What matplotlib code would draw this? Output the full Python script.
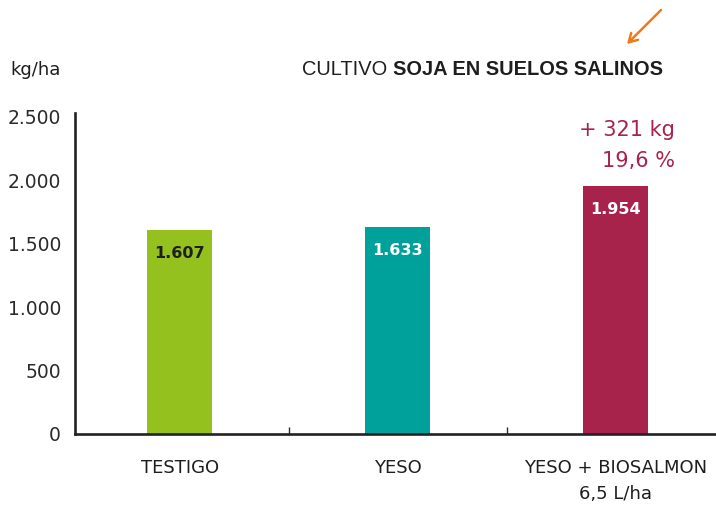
import matplotlib
matplotlib.use("Agg")
import matplotlib.pyplot as plt

# Soja en suelos salinos: rendimiento (kg/ha)
categories = ["TESTIGO", "YESO", "YESO + BIOSALMON\n6,5 L/ha"]
yields = [1607, 1633, 1954]
value_labels = ["1.607", "1.633", "1.954"]
yticks = [0, 500, 1000, 1500, 2000, 2500]
ytick_labels = ["0", "500", "1.000", "1.500", "2.000", "2.500"]
gain_text = ["+ 321 kg", "19,6 %"]

bar_colors = ["#95c11f", "#00a19a", "#a8234b"]
label_colors = ["#1e1e1e", "white", "white"]
accent = "#a8234b"
title_font = ["Liberation Sans", "DejaVu Sans"]

fig = plt.figure(figsize=(7.16, 5.08), dpi=100, facecolor="white")
ax = fig.add_axes([0.1047, 0.1457, 0.8953, 0.632])
ax.set_facecolor("none")

x = list(range(len(categories)))
ax.bar(x, yields, width=0.30, color=bar_colors, zorder=2)

for xi, v, lab, c in zip(x, yields, value_labels, label_colors):
    ax.annotate(lab, (xi, v), xytext=(0, -17), textcoords="offset points",
                ha="center", va="center", fontsize=11.5, fontweight="bold",
                color=c, zorder=3)

ax.set_xlim(-0.48, 2.46)
ax.set_ylim(0, 2532)

ax.set_yticks(yticks)
ax.set_yticklabels(ytick_labels, fontsize=13.5, color="#2a2a2a")
ax.tick_params(axis="y", length=0, pad=10)

ax.set_xticks(x)
ax.set_xticklabels(categories, fontsize=13, color="#1e1e1e",
                   linespacing=1.6, va="top")
ax.tick_params(axis="x", which="major", length=0, pad=18)
ax.set_xticks([0.5, 1.5], minor=True)
ax.tick_params(axis="x", which="minor", direction="in", length=5,
               width=1.0, color="#2a2a2a")

for side in ["top", "right"]:
    ax.spines[side].set_visible(False)
for side in ["left", "bottom"]:
    ax.spines[side].set_linewidth(1.9)
    ax.spines[side].set_color("#222222")

# gain annotation above the last bar
ax.text(2.27, 2395, gain_text[0], ha="right", va="center",
        fontsize=15, color=accent)
ax.text(2.27, 2155, gain_text[1], ha="right", va="center",
        fontsize=15, color=accent)

# header texts
fig.text(0.014, 0.862, "kg/ha", fontsize=13, color="#1e1e1e",
         va="center", ha="left")

# title: regular + bold part, right edge at x=662 px, width ~360 px
title_y = 0.864
fig.canvas.draw()
size = 15
for _ in range(3):
    t1 = fig.text(0, title_y, "CULTIVO ", fontsize=size, family=title_font)
    t2 = fig.text(0, title_y, "SOJA EN SUELOS SALINOS", fontsize=size,
                  fontweight="bold", family=title_font)
    r = fig.canvas.get_renderer()
    w = t1.get_window_extent(r).width + t2.get_window_extent(r).width
    t1.remove()
    t2.remove()
    size *= 360 / w
t1 = fig.text(302 / 716, title_y, "CULTIVO ", fontsize=size, color="#1e1e1e",
              va="center", ha="left", family=title_font)
w1 = t1.get_window_extent(fig.canvas.get_renderer()).width
fig.text((302 + w1) / 716, title_y, "SOJA EN SUELOS SALINOS",
         fontsize=size, color="#1e1e1e", va="center", ha="left",
         fontweight="bold", family=title_font)

# orange arrow in the corner
fig.patches.append(matplotlib.patches.FancyArrowPatch(
    (663 / 716, 1 - 8 / 508), (625 / 716, 1 - 46 / 508),
    transform=fig.transFigure, arrowstyle="->,head_length=6,head_width=3.5",
    color="#f07a1a", linewidth=1.8, mutation_scale=1))

fig.savefig("out.png", dpi=100, facecolor=fig.get_facecolor())
